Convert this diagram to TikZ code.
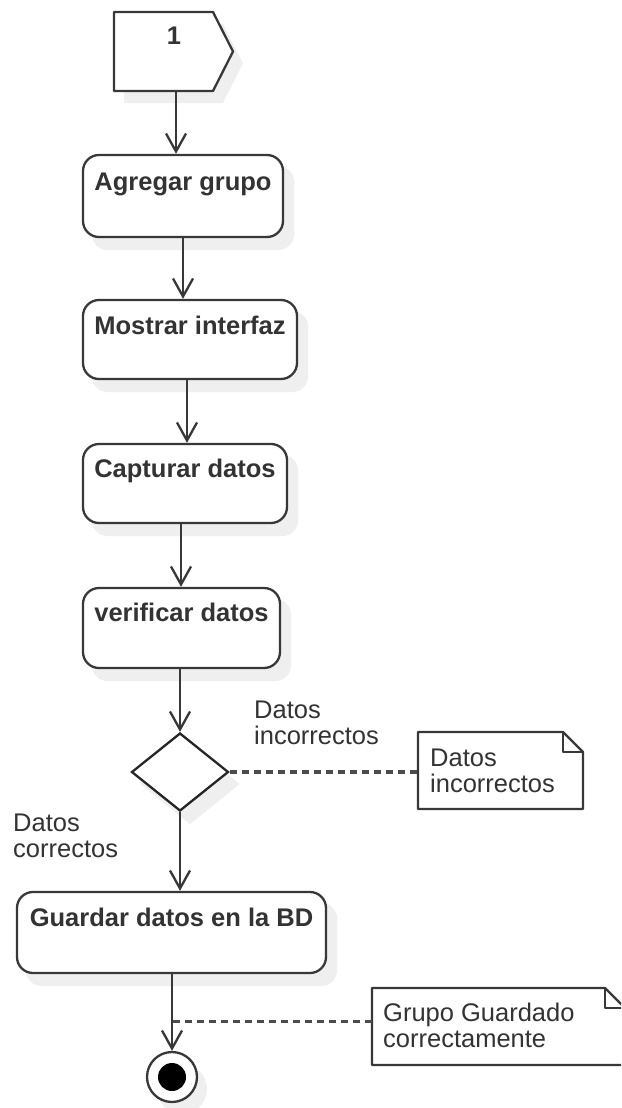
\documentclass[tikz,border=0pt]{standalone}
\usepackage{fontspec}
\setmainfont{Liberation Sans}
\usetikzlibrary{arrows.meta,shapes.geometric,calc}
\definecolor{ink}{HTML}{333333}
\definecolor{edge}{HTML}{383838}
\definecolor{shadowgray}{HTML}{EFEFEF}
\pgfdeclarelayer{bg}
\pgfsetlayers{bg,main}

\begin{document}
\begin{tikzpicture}[x=1pt,y=-1pt,
  every node/.style={font=\fontsize{25.5}{26}\selectfont, text=ink},
  act/.style={draw=edge, line width=2.3pt, fill=white, rounded corners=16pt, inner sep=0pt},
  acttext/.style={font=\bfseries\fontsize{25.5}{26}\selectfont, anchor=base, inner sep=0pt},
  lbl/.style={align=left, anchor=base west, inner sep=0pt},
  area/.style={inner sep=0pt, outer sep=0pt},
  flow/.style={draw=edge, line width=2.3pt, -{Straight Barb[length=18pt,width=20pt,line width=2.3pt]}},
  dashln/.style={draw=edge!90, line width=3.2pt, dash pattern=on 7pt off 5pt},
  notebox/.style={draw=edge, line width=2.3pt, fill=white, line join=round},
  sh/.style={shift={(10pt,-12pt)}},
  shadowfill/.style={fill=shadowgray, draw=none},
]
\useasboundingbox (0,0) rectangle (621,1108);
\clip (0,0) rectangle (621,1108);

% start marker: pentagon "1"
\node[area, minimum width=119pt, minimum height=79pt] (pent) at (173.5,51.5) {};
\draw[draw=edge, line width=2.3pt, fill=white, line join=round] (pent.north west) -- ([xshift=-20pt]pent.north east) -- (pent.east)
  -- ([xshift=-20pt]pent.south east) -- (pent.south west) -- cycle;
\node[acttext] (p1) at (174,45) {1};

% activities
\node[act, minimum width=200pt, minimum height=82pt] (b1) at (183,196) {};
\node[acttext] (t1) at ([yshift=-37pt]b1.north) {Agregar grupo};
\node[act, minimum width=214pt, minimum height=79pt] (b2) at (190,339.5) {};
\node[acttext] (t2) at ([yshift=-36pt]b2.north) {Mostrar interfaz};
\node[act, minimum width=204pt, minimum height=79pt] (b3) at (185,483.5) {};
\node[acttext] (t3) at ([yshift=-35pt]b3.north) {Capturar datos};
\node[act, minimum width=197pt, minimum height=80pt] (b4) at (181.5,628) {};
\node[acttext] (t4) at ([yshift=-35pt]b4.north) {verificar datos};

% decision
\node[diamond, draw=black!85, line width=2.3pt, fill=white, minimum width=97pt, minimum height=78pt, inner sep=0pt] (dec) at (180,772) {};

\node[act, minimum width=309pt, minimum height=81pt] (b5) at (171.5,932.5) {};
\node[acttext] (t5) at ([yshift=-36pt]b5.north) {Guardar datos en la BD};

% final state
\node[circle, draw=edge, line width=2.3pt, fill=white, minimum size=50pt, inner sep=0pt] (endc) at (172,1077) {};
\node[circle, fill=black, minimum size=28pt, inner sep=0pt] (endd) at (endc.center) {};

% notes
\node[area, minimum width=165pt, minimum height=77pt] (n1) at (500.5,770.5) {};
\draw[notebox] (n1.north west) -- ([xshift=-20pt]n1.north east) -- ([yshift=-20pt]n1.north east)
  -- (n1.south east) -- (n1.south west) -- cycle;
\draw[notebox, fill=none] ([xshift=-20pt]n1.north east) -- ([xshift=-20pt,yshift=-20pt]n1.north east) -- ([yshift=-20pt]n1.north east);
\node[lbl] (n1t) at (430,792) {Datos\\incorrectos};

\node[area, minimum width=253pt, minimum height=77pt] (n2) at (498.5,1026.5) {};
\draw[notebox] (n2.north west) -- ([xshift=-20pt]n2.north east) -- ([yshift=-20pt]n2.north east)
  -- (n2.south east) -- (n2.south west) -- cycle;
\draw[notebox, fill=none] ([xshift=-20pt]n2.north east) -- ([xshift=-20pt,yshift=-20pt]n2.north east) -- ([yshift=-20pt]n2.north east);
\node[lbl] (n2t) at (383,1047) {Grupo Guardado\\correctamente};

% guard labels
\node[lbl] (gbad) at (254,744) {Datos\\incorrectos};
\node[lbl] (gok) at (13,857) {Datos\\correctos};

% control flow
\draw[flow] ([xshift=2.5pt]pent.south) -- ([xshift=2.5pt]pent.south |- b1.north);
\draw[flow] (b1.south) -- (b1.south |- b2.north);
\draw[flow] ([xshift=-3pt]b2.south) -- ([xshift=-3pt]b2.south |- b3.north);
\draw[flow] ([xshift=-4pt]b3.south) -- ([xshift=-4pt]b3.south |- b4.north);
\draw[flow] (b4.south -| dec.north) -- (dec.north);
\draw[flow] (dec.south) -- (dec.south |- b5.north);
\draw[flow] (b5.south -| endc.north) -- (endc.north);

% note anchors
\draw[dashln] (dec.east) -- (dec.east -| n1.west);
\draw[dashln] ([yshift=5pt]n2.west) -- ([yshift=5pt]n2.west -| endc.north);

% page and soft shadows, behind everything
\begin{pgfonlayer}{bg}
  \fill[white] (0,0) rectangle (621,1108);
  \path[shadowfill] ([sh]pent.north west) -- ([sh,xshift=-20pt]pent.north east) -- ([sh]pent.east)
    -- ([sh,xshift=-20pt]pent.south east) -- ([sh]pent.south west) -- cycle;
  \foreach \b in {b1,b2,b3,b4,b5}
    \path[shadowfill, rounded corners=16pt] ([sh]\b.south west) rectangle ([sh]\b.north east);
  \path[shadowfill] ([sh]dec.north) -- ([sh]dec.east) -- ([sh]dec.south) -- ([sh]dec.west) -- cycle;
  \path[shadowfill] ([sh]endc.center) circle (25pt);
\end{pgfonlayer}
\end{tikzpicture}
\end{document}
